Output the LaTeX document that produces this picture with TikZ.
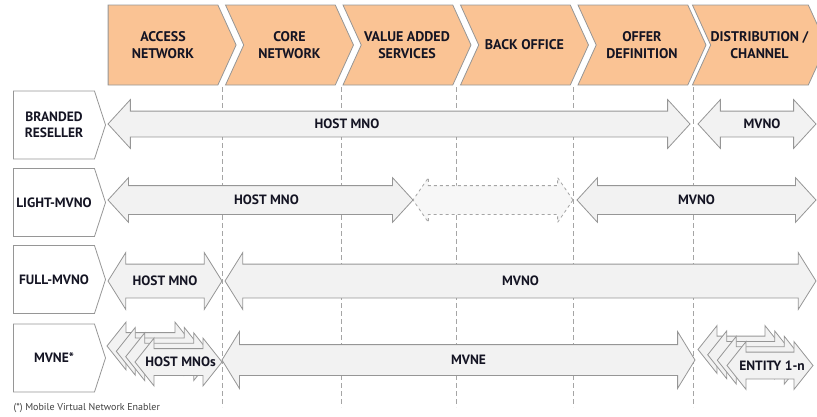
\documentclass[tikz,border=0pt]{standalone}
\usepackage{fontspec}
\setmainfont{PT Sans}
\usepackage{xcolor}
\usetikzlibrary{shapes.symbols, shapes.arrows, positioning}
\definecolor{stageFill}{RGB}{250,195,148}
\definecolor{edgeGray}{RGB}{150,150,150}
\definecolor{laneFill}{RGB}{242,242,242}
\definecolor{gridGray}{RGB}{165,165,165}
\definecolor{inkDark}{RGB}{20,20,35}

\begin{document}
\begin{tikzpicture}[
    x=1pt, y=-1pt,
    every node/.style={font=\bfseries\fontsize{13.5}{16.5}\selectfont, text=inkDark},
    stage/.style={signal, signal to=east, signal from=west, signal pointer angle=131, draw=edgeGray, fill=stageFill, line width=0.8pt, minimum width=128pt, minimum height=80pt, inner sep=0pt, align=center, font=\bfseries\fontsize{14}{17}\selectfont},
    player/.style={signal, signal to=east, signal pointer angle=144, draw=edgeGray, fill=white, line width=0.8pt, minimum width=92pt, minimum height=68pt, inner sep=0pt, align=center, font=\bfseries\fontsize{13.5}{16.3}\selectfont},
    lane/.style={double arrow, draw=edgeGray, fill=laneFill, line width=0.8pt, inner xsep=0pt, text height=0pt, text depth=0pt, minimum height=#1},
    brandedLane/.style={inner ysep=12.5pt, minimum width=48pt, double arrow head extend=11.5pt, double arrow tip angle=95},
    lightLane/.style={inner ysep=14pt, minimum width=44pt, double arrow head extend=8pt, double arrow tip angle=95},
    fullLane/.style={inner ysep=16.5pt, minimum width=56pt, double arrow head extend=11.5pt, double arrow tip angle=116},
    mvneLane/.style={inner ysep=15pt, minimum width=56pt, double arrow head extend=13pt, double arrow tip angle=117},
    stackLane/.style={inner ysep=13pt, minimum width=47pt, double arrow head extend=10.5pt, double arrow tip angle=103},
    gridline/.style={gridGray, line width=0.7pt, dash pattern=on 5pt off 3pt},
    lanetext/.style={inner sep=0pt}
]
\useasboundingbox (0,0) rectangle (817,416);

% Header: value chain
\node[stage, signal from=nowhere] (access) at (163,45) {ACCESS\\NETWORK};
\node[stage] (core) at (289.5,45) {CORE\\NETWORK};
\node[stage] (vas) at (407,45) {VALUE ADDED\\SERVICES};
\node[stage] (backoffice) at (524.5,45) {BACK OFFICE};
\node[stage] (offer) at (642,45) {OFFER\\DEFINITION};
\node[stage] (distrib) at (759.5,45) {DISTRIBUTION /\\CHANNEL};

% Column borders
\foreach \gx in {222,341,456,573,693}
    \draw[gridline] (\gx,87) -- (\gx,407);

% Row 1: Branded reseller
\node[player] (branded) at (54,125) {BRANDED\\RESELLER};
\node[lane=582pt, brandedLane] (brandedHost) at (399,124) {};
\node[lanetext, xshift=-52pt] (brandedHostText) at (brandedHost.center) {HOST MNO};
\node[lane=118pt, brandedLane] (brandedMvno) at (757,124) {};
\node[lanetext, xshift=5pt] (brandedMvnoText) at (brandedMvno.center) {MVNO};

% Row 2: Light-MVNO
\node[player] (light) at (54,202.5) {LIGHT-MVNO};
\node[lane=305pt, lightLane] (lightHost) at (260.5,200) {};
\node[lanetext, xshift=6pt] (lightHostText) at (lightHost.center) {HOST MNO};
\node[lane=160pt, lightLane, dashed, draw=gridGray, fill=laneFill!60, double arrow tip angle=111] (lightShared) at (493,200) {};
\node[lane=239pt, lightLane] (lightMvno) at (696.5,200) {};
\node[lanetext] (lightMvnoText) at (lightMvno.center) {MVNO};

% Row 3: Full-MVNO
\node[player] (full) at (54,279.5) {FULL-MVNO};
\node[lane=114pt, fullLane] (fullHost) at (165,281) {};
\node[lanetext] (fullHostText) at (fullHost.center) {HOST MNO};
\node[lane=591pt, fullLane] (fullMvno) at (520.5,281) {};
\node[lanetext] (fullMvnoText) at (fullMvno.center) {MVNO};

% Row 4: MVNE
\node[player] (mvne) at (54,358) {MVNE*};
\node[lane=473pt, mvneLane] (mvneMain) at (458.5,360) {};
\node[lanetext, xshift=10pt] (mvneMainText) at (mvneMain.center) {MVNE};

% stacked host MNOs
\node[lane=87pt, stackLane] (hostA) at (150.5,346) {};
\node[lane=87pt, stackLane] (hostB) at (159.8,351.3) {};
\node[lane=87pt, stackLane] (hostC) at (169.2,356.7) {};
\node[lane=87pt, stackLane] (hostD) at (178.5,362) {};
\node[lanetext, xshift=2pt] (hostText) at (hostD.center) {HOST MNOs};

% stacked entities
\node[lane=86pt, stackLane] (entityA) at (741,349.5) {};
\node[lane=86pt, stackLane] (entityB) at (750.7,354.8) {};
\node[lane=86pt, stackLane] (entityC) at (760.3,360.2) {};
\node[lane=86pt, stackLane] (entityD) at (770,365.5) {};
\node[lanetext, xshift=2pt] (entityText) at (entityD.center) {ENTITY 1-n};

% Footnote
\node[anchor=west, font=\fontsize{10}{12}\selectfont, text=black!75] (note) at (10,408) {(*) Mobile Virtual Network Enabler};

\end{tikzpicture}
\end{document}
